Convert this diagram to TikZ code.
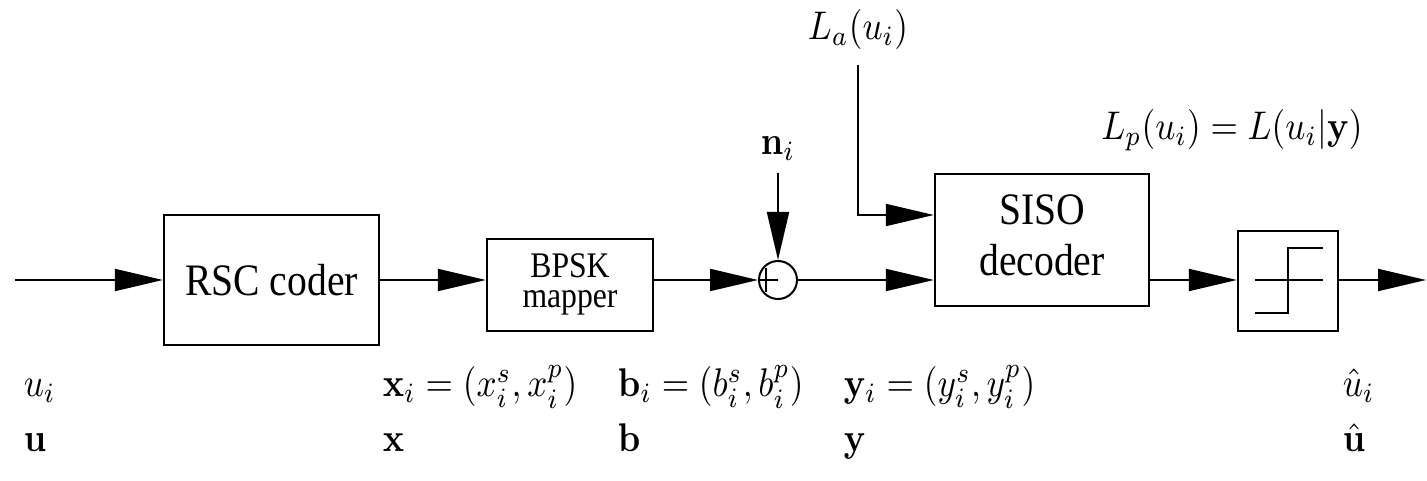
\documentclass[tikz,border=0pt]{standalone}
\usepackage[no-math]{fontspec}
\setmainfont{Liberation Serif}
\usetikzlibrary{arrows.meta}
\newcommand{\sqz}[1]{\scalebox{0.88}[1]{#1}}
\begin{document}
\begin{tikzpicture}[x=0.25pt,y=-0.25pt,
  blk/.style={draw, line width=0.6pt, inner sep=0pt},
  arr/.style={line width=0.5pt, -{Triangle[length=12pt,width=5.5pt]}},
  ln/.style={line width=0.5pt},
  txt/.style={font=\fontsize{11.25}{12.75}\selectfont},
  lbl/.style={inner sep=0pt, anchor=base west, font=\fontsize{10}{12}\selectfont},
  mlbl/.style={inner sep=0pt, font=\fontsize{10}{12}\selectfont}]
\useasboundingbox (0,0) rectangle (1427,481);
% blocks
\node[blk, txt, minimum width=53.75pt, minimum height=32.5pt] (rsc) at (271.5,280) {\sqz{RSC coder}};
\node[blk, minimum width=41.5pt, minimum height=23pt] (bpsk) at (570,285)
  {\sqz{\fontsize{9}{7.5}\selectfont\begin{tabular}{@{}c@{}}BPSK\\mapper\end{tabular}}};
\node[draw, circle, line width=0.5pt, minimum size=9.5pt, inner sep=0pt] (add) at (778,280) {};
\node[blk, minimum width=53.5pt, minimum height=33pt] (siso) at (1042,240)
  {\sqz{\fontsize{11.25}{12.75}\selectfont\begin{tabular}{@{}c@{}}SISO\\decoder\end{tabular}}};
\node[blk, minimum width=25pt, minimum height=25pt] (slc) at (1288,281) {};
% ends
\coordinate (in) at (15,280);
\coordinate (out) at (1426,280);
% top labels
\node[mlbl, anchor=south, inner sep=3pt] (ni) at (778,173) {\sqz{$\mathbf{n}_i$}};
\node[mlbl, anchor=south, inner xsep=0pt, inner ysep=3.75pt] (la) at (858,65) {\sqz{$L_a(u_i)$}};
\node[mlbl] (lp) at (1232,130) {\sqz{$L_p(u_i) = L(u_i|\mathbf{y})$}};
% connectors
\draw[arr] (in) -- (rsc.west);
\draw[arr] (rsc.east) -- (rsc.east -| bpsk.west);
\draw[arr] (bpsk.east |- add) -- (add.west);
\draw[ln] (add.west) -- (add.center);
\draw[ln] ([xshift=-3pt,yshift=3pt]add.center) -- ([xshift=-3pt,yshift=-3pt]add.center);
\draw[arr] (ni.south) -- (add.north);
\draw[arr] (add.east) -- (add.east -| siso.west);
\draw[arr] (la.south) |- ([yshift=6.25pt]siso.west);
\draw[arr] (siso.east |- add) -- (slc.west |- add);
\draw[arr] (slc.east |- add) -- (out);
% slicer symbol
\draw[ln] ([xshift=-8.25pt,yshift=0.25pt]slc.center) -- ([xshift=8.75pt,yshift=0.25pt]slc.center);
\draw[ln] ([xshift=-8.25pt,yshift=-8pt]slc.center) -- ([yshift=-8pt]slc.center)
  -- ([yshift=8.25pt]slc.center) -- ([xshift=8.75pt,yshift=8.25pt]slc.center);
% bottom labels
\node[lbl] (l1) at (23,397) {\sqz{$u_i$}};
\node[lbl] (l2) at (382,397) {\sqz{$\mathbf{x}_i = (x_i^s, x_i^p)$}};
\node[lbl] (l3) at (617,397) {\sqz{$\mathbf{b}_i = (b_i^s, b_i^p)$}};
\node[lbl] (l4) at (843,397) {\sqz{$\mathbf{y}_i = (y_i^s, y_i^p)$}};
\node[lbl] (l5) at (1342,397) {\sqz{$\hat{u}_i$}};
\node[lbl] (m1) at (23,452) {\sqz{$\mathbf{u}$}};
\node[lbl] (m2) at (382,452) {\sqz{$\mathbf{x}$}};
\node[lbl] (m3) at (617,452) {\sqz{$\mathbf{b}$}};
\node[lbl] (m4) at (843,452) {\sqz{$\mathbf{y}$}};
\node[lbl] (m5) at (1342,452) {\sqz{$\hat{\mathbf{u}}$}};
\end{tikzpicture}
\end{document}
